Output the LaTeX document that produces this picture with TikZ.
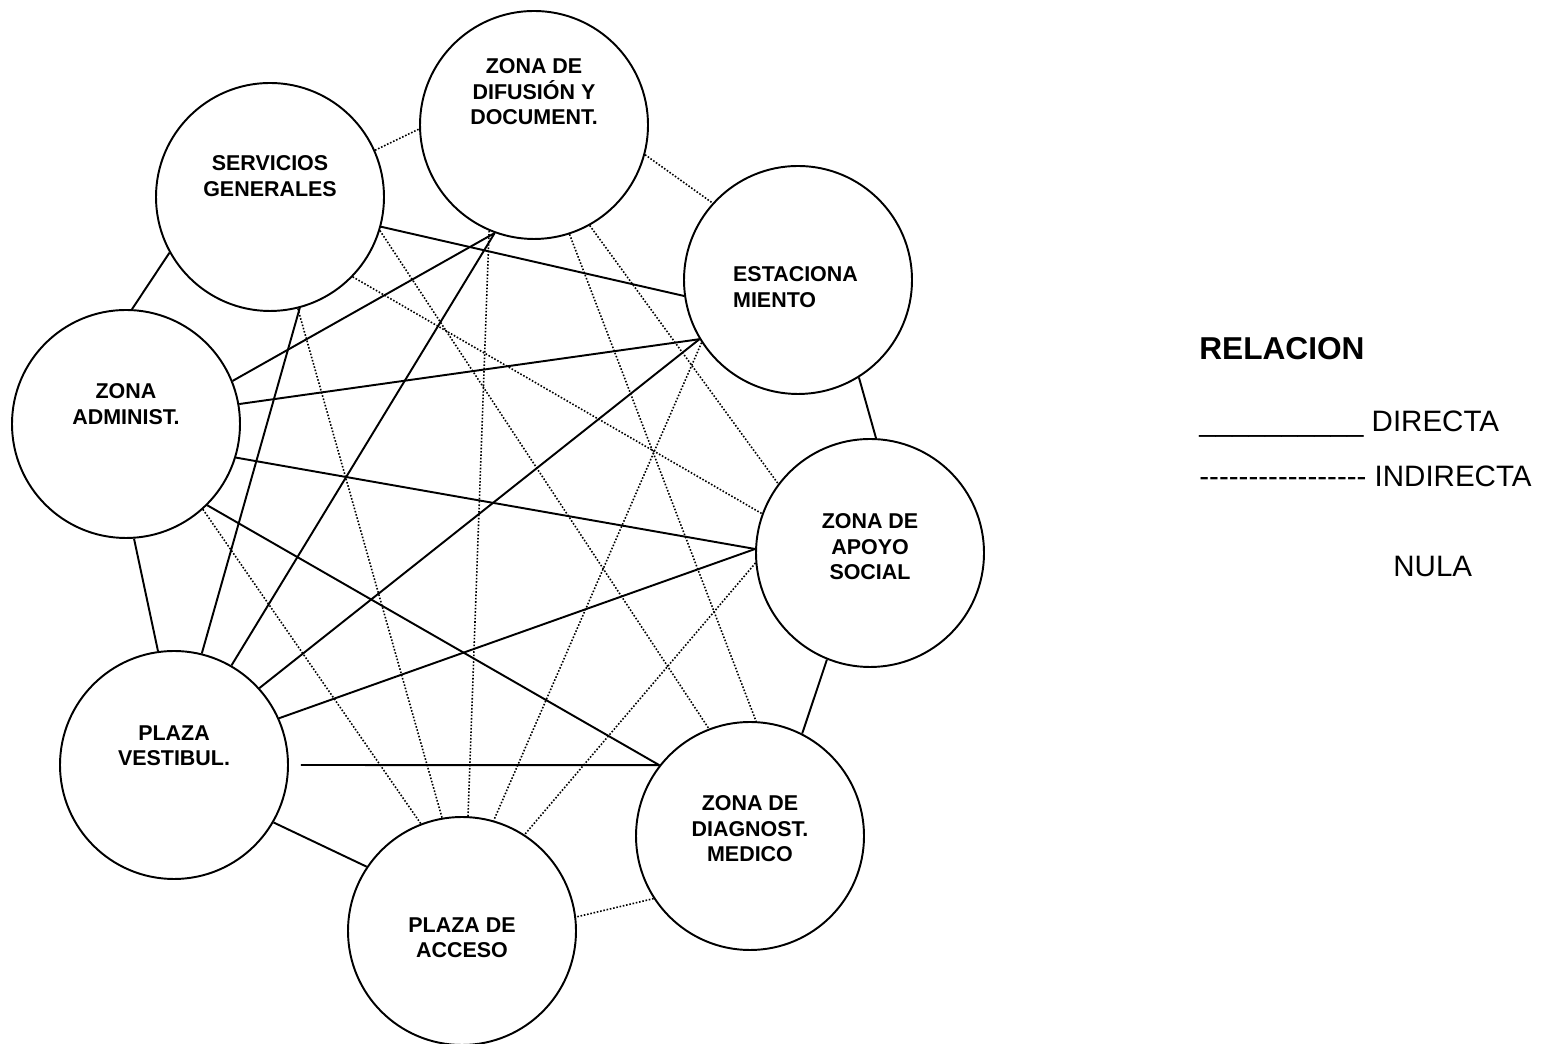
\documentclass[tikz,border=0pt]{standalone}
\usepackage{fontspec}
\setmainfont{Liberation Sans}

\begin{document}
\begin{tikzpicture}[
    zona/.style={circle, draw, line width=1.1pt, minimum size=4.56cm, inner sep=0pt},
    rotulo/.style={font=\bfseries\fontsize{12.2}{14.5}\selectfont, align=center, inner sep=0pt},
    directa/.style={line width=1.1pt},
    indirecta/.style={line width=0.9pt, dash pattern=on 0.9pt off 1pt},
    leyenda/.style={font=\fontsize{16.8}{20}\selectfont, anchor=base west, inner sep=0pt}]
  \useasboundingbox (0,0) rectangle (30.9,20.88);
% zonas
  \node[zona] at (10.68,18.38) (dif) {};
  \node[zona] at (5.40,16.94) (srv) {};
  \node[zona] at (15.96,15.28) (est) {};
  \node[zona] at (2.52,12.40) (adm) {};
  \node[zona] at (17.40,9.82) (apo) {};
  \node[zona] at (3.48,5.58) (ves) {};
  \node[zona] at (15.00,4.16) (dia) {};
  \node[zona] at (9.24,2.26) (acc) {};
\node[rotulo] at (10.68,19.04) (dif,l) {ZONA DE\\DIFUSIÓN Y\\DOCUMENT.};
\node[rotulo] at (5.40,17.36) (srv,l) {SERVICIOS\\GENERALES};
\node[rotulo, align=left] at (15.91,15.14) (est,l) {ESTACIONA\\MIENTO};
\node[rotulo] at (2.52,12.80) (adm,l) {ZONA\\ADMINIST.};
\node[rotulo] at (17.40,9.94) (apo,l) {ZONA DE\\APOYO\\SOCIAL};
\node[rotulo] at (3.48,5.97) (ves,l) {PLAZA\\VESTIBUL.};
\node[rotulo] at (15.00,4.30) (dia,l) {ZONA DE\\DIAGNOST.\\MEDICO};
\node[rotulo] at (9.24,2.13) (acc,l) {PLAZA DE\\ACCESO};
% relacion directa
  \draw[directa] (adm.87) -- (srv.209);
  \draw[directa] (srv.-15) -- (est.188);
  \draw[directa] (adm.22) -- (dif.250);
  \draw[directa] (adm.10) -- (est.211);
  \draw[directa] (adm.-17) -- (apo.178);
  \draw[directa] (adm.-45) -- (dia.142);
  \draw[directa] (adm.-86) -- (ves.98);
  \draw[directa] (srv.-75) -- (ves.76);
  \draw[directa] (dif.250) -- (ves.60);
  \draw[directa] (est.211) -- (ves.42);
  \draw[directa] (apo.178) -- (ves.24);
  \draw[directa] ([xshift=0.24cm]ves.0) -- (dia.142);
  \draw[directa] (ves.-30) -- (acc.146);
  \draw[directa] (est.-58) -- (apo.87);
  \draw[directa] (apo.-112) -- (dia.63);
% relacion indirecta
  \draw[indirecta] (srv.24) -- (dif.182);
  \draw[indirecta] (dif.-15) -- (est.138);
  \draw[indirecta] (srv.-44) -- (apo.160);
  \draw[indirecta] (srv.-17) -- (dia.111);
  \draw[indirecta] (srv.-76) -- (acc.100);
  \draw[indirecta] (dif.-113) -- (acc.87);
  \draw[indirecta] (dif.-72) -- (dia.87);
  \draw[indirecta] (dif.-61) -- (apo.143);
  \draw[indirecta] (adm.-48) -- (acc.111);
  \draw[indirecta] (est.213) -- (acc.74);
  \draw[indirecta] (apo.185) -- (acc.57);
  \draw[indirecta] (dia.213) -- (acc.7);
% leyenda
\node[leyenda, font=\bfseries\fontsize{18}{21}\selectfont] at (23.98,13.68) (rel) {RELACION};
\node[leyenda] at (23.98,12.24) (dir) {\_\_\_\_\_\_\_\_\_\_\ DIRECTA};
\node[leyenda] at (23.98,11.14) (ind) {\foreach \g in {1,...,17}{-}\ INDIRECTA};
\node[leyenda] at (27.86,9.34) (nul) {NULA};
\end{tikzpicture}
\end{document}
